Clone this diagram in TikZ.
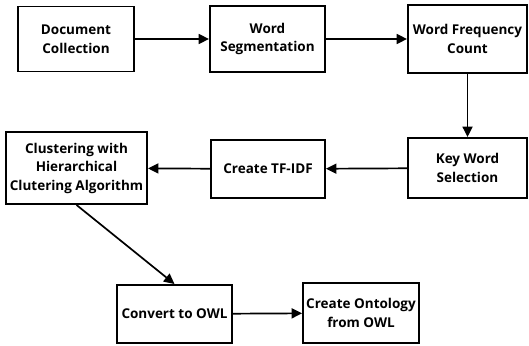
\documentclass[tikz,border=0pt]{standalone}
\usepackage{fontspec}
\setmainfont{Open Sans}
\usetikzlibrary{positioning, arrows.meta}

\begin{document}
\begin{tikzpicture}[x=1pt, y=-1pt,
  box/.style={draw, line width=1.9pt, align=center, font=\fontsize{13.5}{18.5}\selectfont\bfseries, inner sep=1pt},
  arr/.style={-{Triangle[length=10.5pt, width=10pt]}, line width=1.7pt}
]
\useasboundingbox (0,0) rectangle (529,345);

\node[box, minimum width=116pt, minimum height=65pt] (doc) at (76,39) {Document\\Collection};
\node[box, minimum width=115pt, minimum height=66pt] (seg) at (267.5,39) {Word\\Segmentation};
\node[box, minimum width=119pt, minimum height=68pt] (freq) at (467.5,39) {Word Frequency\\Count};

\node[box, minimum width=119pt, minimum height=60pt] (key) at (467.5,168) {Key Word\\Selection};
\node[box, minimum width=114pt, minimum height=58pt] (tfidf) at (268,169) {Create TF-IDF};
\node[box, minimum width=141pt, minimum height=72pt] (clus) at (76.5,168) {Clustering with\\Hierarchical\\Clutering Algorithm};

\node[box, minimum width=115pt, minimum height=58pt] (owl) at (174.5,314) {Convert to OWL};
\node[box, minimum width=116pt, minimum height=60pt] (onto) at (361,313) {Create Ontology\\from OWL};

\draw[arr] (doc) -- (seg);
\draw[arr] (seg) -- (freq);
\draw[arr] (freq) -- (key);
\draw[arr] (key) -- (tfidf);
\draw[arr] (tfidf) -- (clus);
\draw[arr] (clus.south) -- (owl.north);
\draw[arr] (owl) -- (onto);
\end{tikzpicture}
\end{document}
